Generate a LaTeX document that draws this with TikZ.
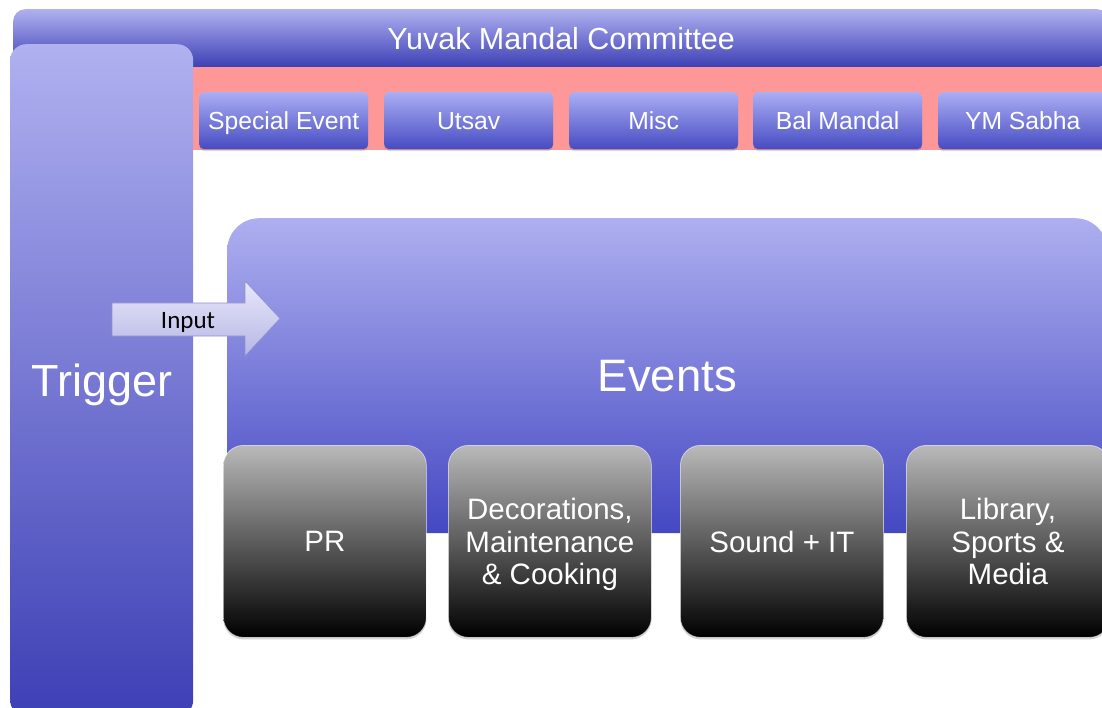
\documentclass[tikz,border=0pt]{standalone}
\usepackage{fontspec}
\setmainfont{Liberation Sans}
\newfontfamily\calib{Carlito}
\usetikzlibrary{shadows}
\definecolor{bluetop}{HTML}{B0B1F0}
\definecolor{bluebot}{HTML}{3D3FB5}
\definecolor{btntop}{HTML}{AAAEF4}
\definecolor{btnbot}{HTML}{474BC2}
\definecolor{evtop}{HTML}{AEAFF0}
\definecolor{evbot}{HTML}{4448C2}
\definecolor{graytop}{HTML}{B9B9B9}
\definecolor{pinkband}{HTML}{FE9898}
\definecolor{arrtop}{HTML}{E8E8FA}
\definecolor{arrbot}{HTML}{B6B6E6}
\definecolor{arredge}{HTML}{9090CC}
\tikzset{
  box/.style={rectangle, anchor=north west, inner sep=0pt, align=center, text=white, text depth=0pt},
  barbox/.style={box, top color=bluetop, bottom color=bluebot, rounded corners=12pt,
    font=\fontsize{30.5}{35}\selectfont},
  btnbox/.style={box, top color=btntop, bottom color=btnbot, rounded corners=5pt,
    minimum width=169pt, minimum height=57pt, font=\fontsize{24.7}{28}\selectfont,
    drop shadow={shadow xshift=0pt, shadow yshift=-2pt, opacity=.3}},
  trigbox/.style={box, top color=bluetop, bottom color=bluebot, rounded corners=16pt,
    font=\fontsize{45}{50}\selectfont},
  evbox/.style={box, top color=evtop, bottom color=evbot, rounded corners=32pt,
    font=\fontsize{45.5}{50}\selectfont},
  graybox/.style={box, top color=graytop, bottom color=black, rounded corners=20pt,
    draw=white, draw opacity=.55, line width=.8pt,
    minimum width=203pt, minimum height=192pt, font=\fontsize{29.5}{32.5}\selectfont,
    drop shadow={shadow xshift=0pt, shadow yshift=-2pt, opacity=.35}},
  inarrow/.style={top color=arrtop, bottom color=arrbot, draw=arredge, line width=.6pt}
}
\begin{document}
\begin{tikzpicture}[x=1pt,y=-1pt]
\useasboundingbox (0,0) rectangle (1102,708);
\clip (0,0) rectangle (1102,708);
% top committee bar
\node[barbox, minimum width=1096pt, minimum height=58pt] (ymc) at (13,9) {Yuvak Mandal Committee};
% pink band
\fill[pinkband] (180,67) rectangle (1110,150);
% category buttons
\node[btnbox] (spe) at (199,92) {Special Event};
\node[btnbox] (uts) at (384,92) {Utsav};
\node[btnbox] (misc) at (569,92) {Misc};
\node[btnbox] (bal) at (753,92) {Bal Mandal};
\node[btnbox] (yms) at (938,92) {YM Sabha};
% trigger column
\node[trigbox, minimum width=183pt, minimum height=672pt] (trig) at (10,44) {Trigger};
% events
\node[evbox, minimum width=880pt, minimum height=315pt] (ev) at (227,218) {Events};
% sub-teams
\node[graybox] (pr) at (223,445) {PR};
\node[graybox] (deco) at (448,445) {Decorations,\\Maintenance\\\& Cooking};
\node[graybox] (snd) at (680,445) {Sound + IT};
\node[graybox] (lib) at (906,445) {Library,\\Sports \&\\Media};
% input arrow
\draw[inarrow] (112,303) -- (245,303) -- (245,281) -- (280,318.5) -- (245,356) -- (245,336) -- (112,336) -- cycle;
\node[font=\calib\fontsize{25}{28}\selectfont, text=black, inner sep=0pt] (inp) at (188,322) {Input};
\end{tikzpicture}
\end{document}
